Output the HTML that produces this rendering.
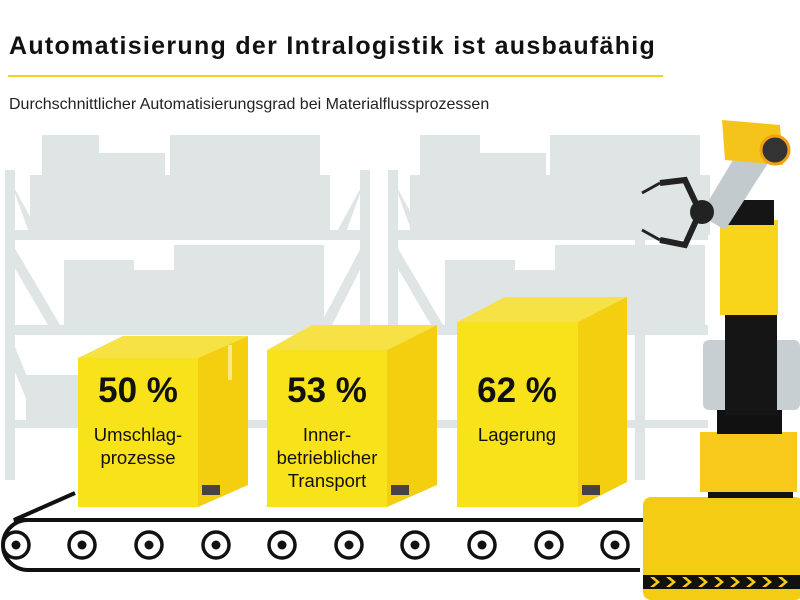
<!DOCTYPE html>
<html><head><meta charset="utf-8"><style>
body{margin:0;width:800px;height:600px;overflow:hidden;background:#fff;font-family:"Liberation Sans",sans-serif;position:relative}
.t{position:absolute;left:9px;top:32px;font-size:25px;font-weight:bold;color:#111;letter-spacing:1.3px;white-space:nowrap}
.s{position:absolute;left:9px;top:96px;font-size:16px;color:#222;white-space:nowrap}
.line{position:absolute;left:8px;top:75px;width:655px;height:2px;background:#f2d21e}
.lab{position:absolute;text-align:center;color:#111;width:120px}
.p{font-size:35px;font-weight:bold}
.l{font-size:18.5px;line-height:23px;margin-top:12px}
</style></head><body>
<svg width="800" height="600" style="position:absolute;left:0;top:0">
<g fill="#dfe5e4">
<rect x="5" y="170" width="10" height="310"/><rect x="360" y="170" width="10" height="310"/>
<rect x="5" y="230" width="365" height="10"/><rect x="5" y="325" width="365" height="10"/><rect x="5" y="420" width="365" height="8"/>
<rect x="42" y="135" width="57" height="100"/><rect x="99" y="153" width="66" height="80"/><rect x="170" y="135" width="150" height="100"/>
<rect x="30" y="175" width="300" height="60"/>
<rect x="64" y="260" width="70" height="70"/><rect x="134" y="270" width="110" height="60"/><rect x="174" y="245" width="150" height="85"/>
<rect x="26" y="375" width="60" height="50"/>
<path d="M10 180 L40 235 L30 235 Z M365 180 L335 235 L345 235 Z M10 240 L60 325 L48 325 L10 260Z M365 240 L320 325 L332 325 L365 260Z M10 335 L45 420 L35 420 L10 360Z M365 335 L320 420 L332 420 L365 360Z"/>
<rect x="388" y="170" width="10" height="310"/><rect x="635" y="170" width="10" height="310"/>
<rect x="388" y="230" width="320" height="10"/><rect x="388" y="325" width="320" height="10"/><rect x="388" y="420" width="320" height="8"/>
<rect x="420" y="135" width="60" height="100"/><rect x="480" y="153" width="66" height="80"/><rect x="550" y="135" width="150" height="100"/>
<rect x="410" y="175" width="300" height="60"/>
<rect x="445" y="260" width="70" height="70"/><rect x="515" y="270" width="110" height="60"/><rect x="555" y="245" width="150" height="85"/>
<path d="M393 180 L423 235 L413 235 Z M393 240 L443 325 L431 325 L393 260Z M393 335 L428 420 L418 420 L393 360Z"/>
</g>
<path d="M75 493 L14 520 L800 520 M28 570 L640 570" stroke="#111" stroke-width="4" fill="none"/>
<path d="M28 520 A25 25 0 0 0 28 570" stroke="#111" stroke-width="4" fill="none"/>
<g fill="none" stroke="#111" stroke-width="3.5">
<circle cx="16" cy="545" r="13"/><circle cx="82" cy="545" r="13"/><circle cx="149" cy="545" r="13"/><circle cx="216" cy="545" r="13"/><circle cx="282" cy="545" r="13"/><circle cx="349" cy="545" r="13"/><circle cx="415" cy="545" r="13"/><circle cx="482" cy="545" r="13"/><circle cx="549" cy="545" r="13"/><circle cx="615" cy="545" r="13"/>
</g>
<g fill="#111"><circle cx="16" cy="545" r="4.5"/><circle cx="82" cy="545" r="4.5"/><circle cx="149" cy="545" r="4.5"/><circle cx="216" cy="545" r="4.5"/><circle cx="282" cy="545" r="4.5"/><circle cx="349" cy="545" r="4.5"/><circle cx="415" cy="545" r="4.5"/><circle cx="482" cy="545" r="4.5"/><circle cx="549" cy="545" r="4.5"/><circle cx="615" cy="545" r="4.5"/></g>
<g>
<path d="M78 358 L123 336 L248 336 L198 358Z" fill="#f6e244"/>
<rect x="78" y="358" width="120" height="149" fill="#f8e21a"/>
<path d="M198 358 L248 336 L248 485 L198 507Z" fill="#f3cf10"/>
<rect x="228" y="345" width="4" height="35" fill="#fbe98a"/>
<path d="M267 350 L312 325 L437 325 L387 350Z" fill="#f6e244"/>
<rect x="267" y="350" width="120" height="157" fill="#f8e21a"/>
<path d="M387 350 L437 325 L437 485 L387 507Z" fill="#f3cf10"/>
<path d="M457 322 L505 297 L627 297 L578 322Z" fill="#f6e244"/>
<rect x="457" y="322" width="121" height="185" fill="#f8e21a"/>
<path d="M578 322 L627 297 L627 482 L578 507Z" fill="#f3cf10"/>
<g fill="#444"><rect x="202" y="485" width="18" height="10"/><rect x="391" y="485" width="18" height="10"/><rect x="582" y="485" width="18" height="10"/></g>
</g>
<rect x="643" y="497" width="160" height="103" rx="8" fill="#f5cc14"/>
<g fill="#111"><rect x="643" y="575" width="160" height="14"/></g>
<g fill="#f5cc14"><path d="M650 577 l6 5 -6 5 h4 l6 -5 -6 -5z M666 577 l6 5 -6 5 h4 l6 -5 -6 -5z M682 577 l6 5 -6 5 h4 l6 -5 -6 -5z M698 577 l6 5 -6 5 h4 l6 -5 -6 -5z M714 577 l6 5 -6 5 h4 l6 -5 -6 -5z M730 577 l6 5 -6 5 h4 l6 -5 -6 -5z M746 577 l6 5 -6 5 h4 l6 -5 -6 -5z M762 577 l6 5 -6 5 h4 l6 -5 -6 -5z M778 577 l6 5 -6 5 h4 l6 -5 -6 -5z"/></g>
<rect x="708" y="490" width="85" height="8" fill="#111"/>
<rect x="700" y="432" width="97" height="60" fill="#f6c91a"/>
<rect x="717" y="410" width="65" height="24" fill="#111"/>
<rect x="703" y="340" width="97" height="70" rx="6" fill="#c8cfd2"/>
<rect x="725" y="310" width="52" height="105" fill="#151515"/>
<rect x="720" y="220" width="58" height="95" fill="#f8d41a"/>
<rect x="722" y="200" width="52" height="25" fill="#151515"/>
<path d="M700 215 L745 140 L770 160 L725 230Z" fill="#c3cacd"/>
<path d="M722 120 L780 125 L783 165 L725 160Z" fill="#f5c41a"/>
<circle cx="775" cy="150" r="14" fill="#333" stroke="#f0a010" stroke-width="3"/>
<circle cx="702" cy="212" r="12" fill="#222"/>
<path d="M700 212 L685 180 L660 183 M700 212 L685 245 L660 240" stroke="#222" stroke-width="6" fill="none"/>
<path d="M660 183 L642 193 M660 240 L642 230" stroke="#222" stroke-width="3" fill="none"/>
</svg>
<div class="t">Automatisierung der Intralogistik ist ausbaufähig</div>
<div class="line"></div>
<div class="s">Durchschnittlicher Automatisierungsgrad bei Materialflussprozessen</div>
<div class="lab" style="left:78px;top:371px"><div class="p">50 %</div><div class="l">Umschlag-<br>prozesse</div></div>
<div class="lab" style="left:267px;top:371px"><div class="p">53 %</div><div class="l">Inner-<br>betrieblicher<br>Transport</div></div>
<div class="lab" style="left:457px;top:371px"><div class="p">62 %</div><div class="l">Lagerung</div></div>
</body></html>
